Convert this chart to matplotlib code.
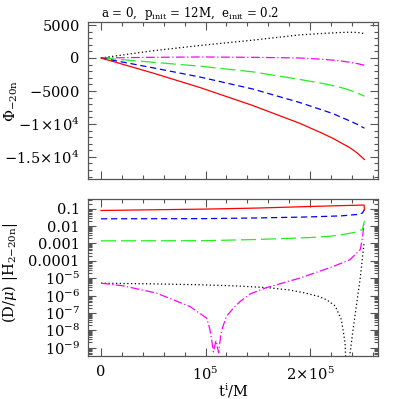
import numpy as np
import matplotlib
matplotlib.use("Agg")
import matplotlib.pyplot as plt
from matplotlib.ticker import FixedLocator, MultipleLocator, LogLocator, NullFormatter

plt.rcParams['font.family'] = 'DejaVu Serif'
plt.rcParams['mathtext.fontset'] = 'dejavuserif'

# ---- top panel: Phi_{-20n} vs t (t in units of 1e5 M) ----
t_top = [0, 0.5, 0.95, 1.45, 1.9, 2.1, 2.22, 2.3, 2.38, 2.45, 2.52]
phi_red = [0, -2300, -4500, -7200, -9900, -11300, -12200, -12900, -13600, -14400, -15400]
phi_blue = [0, -1500, -2900, -4700, -6750, -7800, -8450, -9000, -9550, -10050, -10650]
phi_green = [0, -650, -1250, -2100, -3250, -3800, -4200, -4500, -4880, -5300, -5800]
phi_magenta = [0, 100, 150, 100, 0, -180, -330, -470, -650, -850, -1100]
phi_black = [0, 1100, 1900, 2700, 3500, 3700, 3800, 3870, 3900, 3880, 3700]

# ---- bottom panel: (D/mu)|H_{2-20n}| (log10 values) ----
t_red = [0, 0.5, 1.0, 1.5, 2.0, 2.3, 2.5, 2.517, 2.52]
h_red = [-1.1, -1.06, -1.02, -0.96, -0.87, -0.82, -0.79, -0.79, -1.05]
t_blue = [0, 1.0, 1.5, 2.0, 2.3, 2.45, 2.5, 2.52]
h_blue = [-1.58, -1.57, -1.53, -1.47, -1.41, -1.33, -1.25, -1.05]
t_green = [0, 1.0, 1.5, 2.0, 2.2, 2.35, 2.45, 2.5, 2.52]
h_green = [-2.85, -2.84, -2.77, -2.66, -2.58, -2.45, -2.33, -2.2, -1.7]
t_mag = [0, 0.21, 0.53, 0.85, 1.01, 1.04, 1.06, 1.075, 1.10, 1.125, 1.145, 1.16,
         1.2, 1.27, 1.33, 1.43, 1.58, 1.9, 2.22, 2.38, 2.48, 2.503, 2.517]
h_mag = [-5.29, -5.44, -5.86, -6.63, -7.3, -7.9, -8.6, -9.25, -8.6, -9.3, -8.3, -7.9,
         -7.2, -6.7, -6.35, -5.9, -5.55, -5.0, -4.33, -3.94, -3.36, -2.6, -1.75]
t_blk = [0, 0.5, 0.95, 1.3, 1.6, 1.8, 1.95, 2.08, 2.16, 2.24, 2.30, 2.335, 2.351,
         2.383, 2.411, 2.447, 2.478, 2.517]
h_blk = [-5.29, -5.33, -5.38, -5.45, -5.55, -5.68, -5.85, -6.05, -6.25, -6.6, -7.4, -8.73, -11,
         -9.3, -7.98, -6.42, -5.09, -2.96]

top_yticks = [5000, 0, -5000, -10000, -15000]
top_ylabels = ['5000', '0', r'$-5000$', r'$-1\!\times\!10^4$', r'$-1.5\!\times\!10^4$']
bot_yticks = [1e-1, 1e-2, 1e-3, 1e-4, 1e-5, 1e-6, 1e-7, 1e-8, 1e-9]
bot_ylabels = ['0.1', '0.01', '0.001', '0.0001', r'$10^{-5}$', r'$10^{-6}$',
               r'$10^{-7}$', r'$10^{-8}$', r'$10^{-9}$']
xticks = [0, 1e5, 2e5]
xlabels = ['0', r'$10^5$', r'$2\!\times\!10^5$']

spine_col = '#555555'
lw = 0.9
styles = {
    'red': dict(color='#ff0000', ls='-'),
    'blue': dict(color='#0000ff', ls=(0, (5, 3))),
    'green': dict(color='#22ee22', ls=(0, (12, 4))),
    'magenta': dict(color='#ff00ff', ls=(0, (7, 2, 1, 2))),
    'black': dict(color='black', ls=(0, (1, 2))),
}

fig = plt.figure(figsize=(3.99, 3.99), dpi=100)
ax1 = fig.add_axes([0.2206, 0.5506, 0.7268, 0.395])
ax2 = fig.add_axes([0.2206, 0.1085, 0.7268, 0.392])

t1 = np.array(t_top) * 1e5
ax1.plot(t1, phi_black, lw=lw, **styles['black'])
ax1.plot(t1, phi_magenta, lw=lw, **styles['magenta'])
ax1.plot(t1, phi_green, lw=lw, **styles['green'])
ax1.plot(t1, phi_blue, lw=lw, **styles['blue'])
ax1.plot(t1, phi_red, lw=lw, **styles['red'])
ax1.set_ylim(-18400, 5500)
ax1.yaxis.set_major_locator(FixedLocator(top_yticks))
ax1.set_yticklabels(top_ylabels)
ax1.yaxis.set_minor_locator(MultipleLocator(1000))
ax1.set_ylabel(r'$\Phi_{-20\mathrm{n}}$', fontsize=10.5)
ax1.yaxis.set_label_coords(-0.235, 0.5)

ax2.set_yscale('log')
for tt, hh, key in [(t_blk, h_blk, 'black'), (t_mag, h_mag, 'magenta'),
                    (t_green, h_green, 'green'), (t_blue, h_blue, 'blue'),
                    (t_red, h_red, 'red')]:
    ax2.plot(np.array(tt) * 1e5, 10.0 ** np.array(hh), lw=lw, **styles[key])
ax2.set_ylim(3.4e-10, 0.35)
ax2.yaxis.set_major_locator(FixedLocator(bot_yticks))
ax2.set_yticklabels(bot_ylabels)
ax2.yaxis.set_minor_locator(LogLocator(base=10, subs=np.arange(2, 10), numticks=50))
ax2.yaxis.set_minor_formatter(NullFormatter())
ax2.set_ylabel(r'$(\mathrm{D}/\mu)\ |\mathrm{H}_{2\mathrm{-}20\mathrm{n}}|$', fontsize=10.5)
ax2.yaxis.set_label_coords(-0.235, 0.53)
ax2.set_xlabel(r'$\mathrm{t}^{\mathrm{i}}/\mathrm{M}$', fontsize=10.5, va='top')
ax2.xaxis.set_label_coords(0.5, -0.168)

for ax in (ax1, ax2):
    ax.set_xlim(-12400, 265000)
    ax.xaxis.set_major_locator(FixedLocator(xticks))
    ax.xaxis.set_minor_locator(MultipleLocator(2e4))
    ax.tick_params(which='both', direction='in', top=True, right=True,
                   color=spine_col, width=0.8, labelsize=10.5, pad=6)
    ax.tick_params(which='major', length=6)
    ax.tick_params(which='minor', length=3)
    for s in ax.spines.values():
        s.set_color(spine_col)
        s.set_linewidth(0.9)

ax1.set_xticklabels([])
ax2.set_xticklabels(xlabels)
ax2.tick_params(axis='x', pad=7)

fig.text(101 / 399, 1 - 16.7 / 399,
         r'a = 0,  p$_{\mathrm{init}}$ = 12M,  e$_{\mathrm{init}}$ = 0.2',
         fontsize=8.5, ha='left', va='baseline')

fig.savefig('out.png', dpi=100, facecolor='white')
